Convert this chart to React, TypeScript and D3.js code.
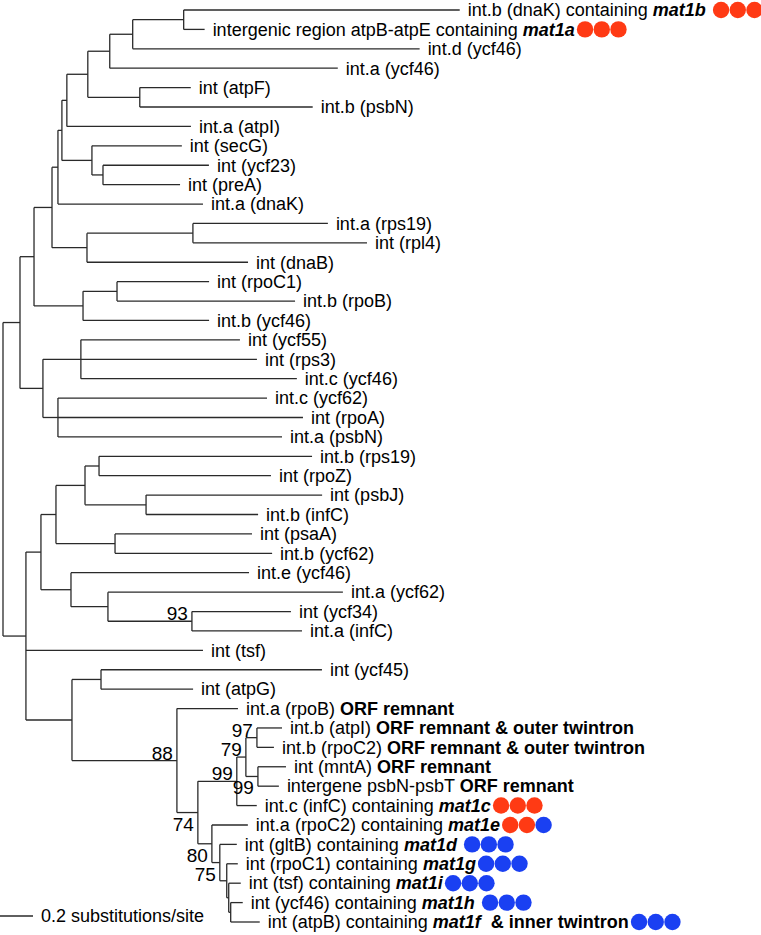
import React, { useEffect, useRef } from "react";
import * as d3 from "d3";

// Tree edges in preorder: [node, parent, branch length (substitutions/site)]
const edges: [string, string, number][] = [
  ["root", "", 0],
  ["P", "root", 0.103],
  ["M", "P", 0.085],
  ["J", "M", 0.109],
  ["I", "J", 0.036],
  ["F", "I", 0.024],
  ["E", "F", 0.03],
  ["C", "E", 0.127],
  ["B", "C", 0.133],
  ["A", "B", 0.139],
  ["N12", "A", 0.309],
  ["L1", "N12", 1.673],
  ["L2", "N12", 0.127],
  ["L3", "A", 1.739],
  ["L4", "B", 1.382],
  ["D", "C", 0.315],
  ["L5", "D", 0.309],
  ["L6", "D", 1.048],
  ["L7", "E", 0.752],
  ["G", "F", 0.182],
  ["L8", "G", 0.545],
  ["H", "G", 0.067],
  ["L9", "H", 0.642],
  ["L10", "H", 0.467],
  ["L11", "I", 0.879],
  ["K", "J", 0.212],
  ["K2", "K", 0.642],
  ["L12", "K2", 0.818],
  ["L13", "K2", 1.055],
  ["L14", "K", 0.976],
  ["N", "M", 0.297],
  ["O", "N", 0.206],
  ["L15", "O", 0.558],
  ["L16", "O", 1.079],
  ["L17", "N", 0.764],
  ["Q", "P", 0.139],
  ["R", "Q", 0.23],
  ["L18", "R", 0.964],
  ["L19", "R", 1.067],
  ["L20", "R", 1.309],
  ["S", "Q", 0.091],
  ["L21", "S", 1.267],
  ["L22", "S", 1.485],
  ["L23", "S", 1.358],
  ["CC", "root", 0.139],
  ["Y", "CC", 0.091],
  ["X", "Y", 0.091],
  ["V", "X", 0.176],
  ["T", "V", 0.085],
  ["L24", "T", 1.291],
  ["L25", "T", 1.042],
  ["U", "V", 0.37],
  ["L26", "U", 1.067],
  ["L27", "U", 0.679],
  ["W", "X", 0.358],
  ["L28", "W", 0.83],
  ["L29", "W", 0.952],
  ["Z", "Y", 0.182],
  ["L30", "Z", 1.079],
  ["AA", "Z", 0.224],
  ["L31", "AA", 1.424],
  ["BB", "AA", 0.509],
  ["L32", "BB", 0.6],
  ["L33", "BB", 0.667],
  ["L34", "CC", 1.073],
  ["DD", "CC", 0.279],
  ["EE", "DD", 0.176],
  ["L35", "EE", 1.339],
  ["L36", "EE", 0.558],
  ["FF", "DD", 0.636],
  ["L37", "FF", 0.37],
  ["GG", "FF", 0.127],
  ["HH", "GG", 0.236],
  ["II", "HH", 0.055],
  ["KK", "II", 0.067],
  ["L38", "KK", 0.152],
  ["L39", "KK", 0.103],
  ["JJ", "II", 0.073],
  ["L40", "JJ", 0.17],
  ["L41", "JJ", 0.127],
  ["L42", "HH", 0.121],
  ["LL", "GG", 0.085],
  ["L43", "LL", 0.218],
  ["MM", "LL", 0.048],
  ["L44", "MM", 0.103],
  ["NN", "MM", 0.042],
  ["L45", "NN", 0.067],
  ["OO", "NN", 0.012],
  ["L46", "OO", 0.073],
  ["PP", "OO", 0.012],
  ["L47", "PP", 0.073],
  ["L48", "PP", 0.176],
];

// Leaf labels (L1..L48). *text* = bold italic, ^text^ = bold
const leafLabels = [
  "int.b (dnaK) containing *mat1b* ",
  "intergenic region atpB-atpE containing *mat1a*",
  "int.d (ycf46)",
  "int.a (ycf46)",
  "int (atpF)",
  "int.b (psbN)",
  "int.a (atpI)",
  "int (secG)",
  "int (ycf23)",
  "int (preA)",
  "int.a (dnaK)",
  "int.a (rps19)",
  "int (rpl4)",
  "int (dnaB)",
  "int (rpoC1)",
  "int.b (rpoB)",
  "int.b (ycf46)",
  "int (ycf55)",
  "int (rps3)",
  "int.c (ycf46)",
  "int.c (ycf62)",
  "int (rpoA)",
  "int.a (psbN)",
  "int.b (rps19)",
  "int (rpoZ)",
  "int (psbJ)",
  "int.b (infC)",
  "int (psaA)",
  "int.b (ycf62)",
  "int.e (ycf46)",
  "int.a (ycf62)",
  "int (ycf34)",
  "int.a (infC)",
  "int (tsf)",
  "int (ycf45)",
  "int (atpG)",
  "int.a (rpoB) ^ORF remnant^",
  "int.b (atpI) ^ORF remnant & outer twintron^",
  "int.b (rpoC2) ^ORF remnant & outer twintron^",
  "int (mntA) ^ORF remnant^",
  "intergene psbN-psbT ^ORF remnant^",
  "int.c (infC) containing *mat1c*",
  "int.a (rpoC2) containing *mat1e*",
  "int (gltB) containing *mat1d* ",
  "int (rpoC1) containing *mat1g*",
  "int (tsf) containing *mat1i*",
  "int (ycf46) containing *mat1h* ",
  "int (atpB) containing *mat1f*^  & inner twintron^",
];

// Coloured dots after some leaves (r = red, b = blue)
const dotLeaves = ["L1", "L2", "L42", "L43", "L44", "L45", "L46", "L47", "L48"];
const dotCodes = ["rrr", "rrr", "rrr", "rrb", "bbb", "bbb", "bbb", "bbb", "bbb"];

// Bootstrap support values
const supportNodes = ["BB", "FF", "GG", "HH", "II", "KK", "JJ", "LL", "MM"];
const supportValues = [93, 88, 74, 99, 79, 97, 99, 80, 75];
const supportBelow = new Set(["GG", "JJ", "LL", "MM"]);

const scaleBarValue = 0.2;
const scaleBarLabel = "0.2 substitutions/site";

const W = 761;
const H = 935;
const FONT = "'Liberation Sans', Arial, Helvetica, sans-serif";
const dotColors: Record<string, string> = { r: "#ff3a14", b: "#1a40f2" };

export default function App() {
  const ref = useRef<SVGSVGElement | null>(null);

  useEffect(() => {
    const svg = d3.select(ref.current);
    svg.selectAll("*").remove();

    const rows = edges.map(([id, parent, len]) => ({ id, parent, len }));
    const root: any = d3
      .stratify<any>()
      .id((d: any) => d.id)
      .parentId((d: any) => (d.parent === "" ? undefined : d.parent))(rows);

    root.eachBefore((n: any) => {
      n.dist = n.parent ? n.parent.dist + n.data.len : 0;
    });
    const leaves = root.leaves();
    const y = d3
      .scalePoint<string>()
      .domain(leaves.map((l: any) => l.id))
      .range([10, 922]);
    root.eachAfter((n: any) => {
      n.py = n.children
        ? (n.children[0].py + n.children[n.children.length - 1].py) / 2
        : (y(n.id) as number);
    });
    const x = d3.scaleLinear().domain([0, 1]).range([3, 168]);

    const g = svg.append("g");
    const stroke = "#2a2a2a";
    const sw = 1.3;

    // horizontal branches
    root.descendants().forEach((n: any) => {
      if (!n.parent) return;
      g.append("line")
        .attr("x1", x(n.parent.dist))
        .attr("x2", x(n.dist))
        .attr("y1", n.py)
        .attr("y2", n.py)
        .attr("stroke", stroke)
        .attr("stroke-width", sw);
    });
    // vertical connectors
    root.descendants().forEach((n: any) => {
      if (!n.children) return;
      g.append("line")
        .attr("x1", x(n.dist))
        .attr("x2", x(n.dist))
        .attr("y1", n.children[0].py)
        .attr("y2", n.children[n.children.length - 1].py)
        .attr("stroke", stroke)
        .attr("stroke-width", sw);
    });

    // leaf labels
    leaves.forEach((leaf: any) => {
      const idx = parseInt(leaf.id.slice(1), 10) - 1;
      const label = leafLabels[idx];
      const tx = x(leaf.dist) + 8;
      const text = g
        .append("text")
        .attr("x", tx)
        .attr("y", leaf.py)
        .attr("dy", "0.35em")
        .attr("font-family", FONT)
        .attr("font-size", 18)
        .attr("fill", "#000")
        .attr("xml:space", "preserve")
        .style("white-space", "pre");
      const parts = label.split(/(\*[^*]+\*|\^[^^]+\^)/).filter((s) => s.length);
      parts.forEach((p) => {
        const ts = text.append("tspan");
        if (p.startsWith("*")) {
          ts.text(p.slice(1, -1)).attr("font-weight", "bold").attr("font-style", "italic");
        } else if (p.startsWith("^")) {
          ts.text(p.slice(1, -1)).attr("font-weight", "bold");
        } else {
          ts.text(p);
        }
      });
      const di = dotLeaves.indexOf(leaf.id);
      if (di >= 0) {
        const len = (text.node() as SVGTextElement).getComputedTextLength();
        const r = 8.2;
        const step = 16.7;
        dotCodes[di].split("").forEach((c, k) => {
          g.append("circle")
            .attr("cx", tx + len + 2 + r + k * step)
            .attr("cy", leaf.py)
            .attr("r", r)
            .attr("fill", dotColors[c]);
        });
      }
    });

    // support values
    const byId = new Map(root.descendants().map((n: any) => [n.id, n]));
    supportNodes.forEach((id, i) => {
      const n: any = byId.get(id);
      g.append("text")
        .attr("x", x(n.dist) - 4)
        .attr("y", supportBelow.has(id) ? n.py + 18 : n.py - 1)
        .attr("text-anchor", "end")
        .attr("font-family", FONT)
        .attr("font-size", 19)
        .attr("fill", "#000")
        .text(String(supportValues[i]));
    });

    // scale bar
    const sbY = 916;
    const sbLen = x(scaleBarValue) - x(0);
    g.append("line")
      .attr("x1", 0)
      .attr("x2", sbLen)
      .attr("y1", sbY)
      .attr("y2", sbY)
      .attr("stroke", stroke)
      .attr("stroke-width", sw);
    g.append("text")
      .attr("x", sbLen + 8)
      .attr("y", sbY)
      .attr("dy", "0.35em")
      .attr("font-family", FONT)
      .attr("font-size", 18)
      .attr("fill", "#000")
      .text(scaleBarLabel);
  }, []);

  return (
    <svg
      ref={ref}
      width={W}
      height={H}
      viewBox={`0 0 ${W} ${H}`}
      style={{ position: "absolute", left: 0, top: 0, background: "#fff" }}
    />
  );
}
